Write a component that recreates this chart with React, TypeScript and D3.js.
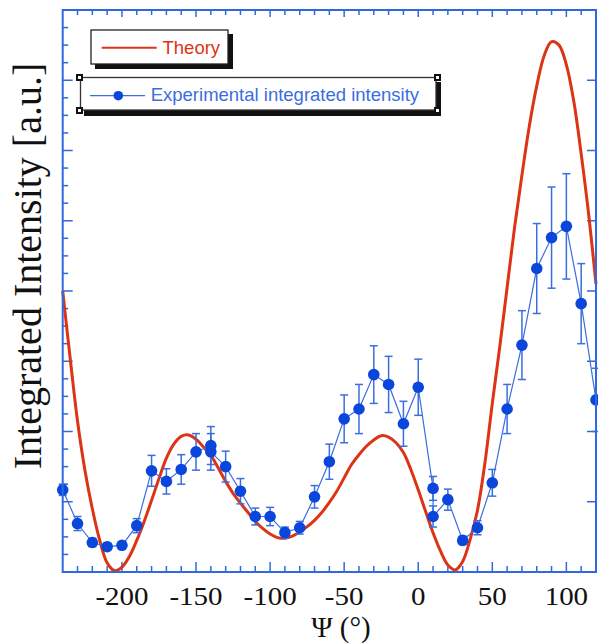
import React from "react";
import * as d3 from "d3";

// Theory curve, every 5 degrees
const theoryPsi = d3.range(-240, 121, 5);
const theoryVal = [
  4.0, 3.05, 2.15, 1.45, 0.9, 0.45, 0.13, 0.02, 0.07, 0.22, 0.45, 0.72, 1.02,
  1.33, 1.62, 1.82, 1.93, 1.95, 1.89, 1.78, 1.66, 1.48, 1.29, 1.12, 0.98, 0.85,
  0.72, 0.62, 0.54, 0.49, 0.48, 0.51, 0.57, 0.645, 0.735, 0.85, 0.99, 1.15, 1.34,
  1.53, 1.67, 1.79, 1.88, 1.94, 1.92, 1.84, 1.7, 1.46, 1.17, 0.86, 0.56, 0.3,
  0.1, 0.03, 0.15, 0.46, 0.88, 1.55, 2.4, 3.2, 4.05, 4.9, 5.65, 6.35, 6.92,
  7.35, 7.55, 7.5, 7.22, 6.7, 5.95, 5.1, 4.1,
];

// Experimental points (two measurements at -140 and at 10)
const expPsi = [
  -240, -230, -220, -210, -200, -190, -180, -170, -160, -150, -140, -140, -130,
  -120, -110, -100, -90, -80, -70, -60, -50, -40, -30, -20, -10, 0, 10, 10, 20,
  30, 40, 50, 60, 70, 80, 90, 100, 110, 120,
];
const expVal = [
  1.17, 0.69, 0.42, 0.36, 0.38, 0.66, 1.44, 1.29, 1.46, 1.71, 1.8, 1.71, 1.5,
  1.15, 0.79, 0.79, 0.56, 0.63, 1.07, 1.57, 2.18, 2.32, 2.81, 2.67, 2.11, 2.63,
  1.19, 0.79, 1.03, 0.45, 0.63, 1.27, 2.32, 3.23, 4.32, 4.76, 4.92, 3.82, 2.45,
];
const expErr = [
  0.08, 0.1, 0.06, 0.05, 0.05, 0.1, 0.22, 0.18, 0.21, 0.26, 0.27, 0.26, 0.22,
  0.18, 0.12, 0.13, 0.08, 0.09, 0.16, 0.25, 0.34, 0.35, 0.41, 0.4, 0.32, 0.4,
  0.17, 0.15, 0.15, 0.06, 0.1, 0.19, 0.35, 0.49, 0.64, 0.72, 0.75, 0.57, 0.45,
];

const xTickLabels = [-200, -150, -100, -50, 0, 50, 100];

const W = 598;
const H = 644;
const left = 62.7;
const right = 596;
const top = 10;
const bottom = 572;

const AXIS = "#3068e0";
const RED = "#dc3414";
const BLUE = "#0a46dc";
const BLUE_LINE = "#3a6ee0";
const SERIF = "'Liberation Serif', 'Times New Roman', serif";
const SANS = "'Liberation Sans', Arial, Helvetica, sans-serif";

export default function App() {
  const x = d3.scaleLinear().domain([-240, 120]).range([left, right]);
  const y = d3.scaleLinear().domain([0, 8]).range([bottom, top]);

  const theory = theoryPsi.map((p, i) => [p, theoryVal[i]] as [number, number]);
  const exp = expPsi.map((p, i) => ({ p, v: expVal[i], e: expErr[i] }));

  const theoryPath = d3
    .line<[number, number]>()
    .x((d) => x(d[0]))
    .y((d) => y(d[1]))
    .curve(d3.curveCatmullRom)(theory);

  const expPath = d3
    .line<{ p: number; v: number }>()
    .x((d) => x(d.p))
    .y((d) => y(d.v))(exp);

  const xMinor = d3.range(-230, 120, 10);
  const yMinor = d3.range(0.25, 8, 0.25);
  const yMajor = d3.range(1, 8, 1);

  return (
    <svg
      width={W}
      height={H}
      style={{ position: "absolute", left: 0, top: 0, background: "#fff" }}
    >
      {/* ticks */}
      <g stroke={AXIS} strokeWidth={1.5}>
        {xMinor.map((t) => {
          const major = t % 50 === 0;
          return (
            <g key={"xt" + t}>
              <line x1={x(t)} x2={x(t)} y1={bottom} y2={bottom - (major ? 10 : 6)} />
              <line x1={x(t)} x2={x(t)} y1={top} y2={top + (major ? 7 : 5)} />
            </g>
          );
        })}
        {yMinor.map((t) => {
          const major = Number.isInteger(t);
          return (
            <line key={"yt" + t} x1={left} x2={left + (major ? 10 : 5.5)} y1={y(t)} y2={y(t)} />
          );
        })}
        {yMajor.map((t) => (
          <line key={"yr" + t} x1={right} x2={right - 9} y1={y(t)} y2={y(t)} />
        ))}
      </g>

      {/* theory curve */}
      <path d={theoryPath || ""} fill="none" stroke={RED} strokeWidth={3} />

      {/* experimental data */}
      <path d={expPath || ""} fill="none" stroke={BLUE_LINE} strokeWidth={1.2} />
      <g stroke={BLUE_LINE} strokeWidth={1.5}>
        {exp.map((d, i) => (
          <g key={"eb" + i}>
            <line x1={x(d.p)} x2={x(d.p)} y1={y(d.v - d.e)} y2={y(d.v + d.e)} />
            <line x1={x(d.p) - 4} x2={x(d.p) + 4} y1={y(d.v - d.e)} y2={y(d.v - d.e)} />
            <line x1={x(d.p) - 4} x2={x(d.p) + 4} y1={y(d.v + d.e)} y2={y(d.v + d.e)} />
          </g>
        ))}
      </g>
      <g fill={BLUE}>
        {exp.map((d, i) => (
          <circle key={"pt" + i} cx={x(d.p)} cy={y(d.v)} r={5.8} />
        ))}
      </g>

      {/* frame */}
      <rect
        x={left}
        y={top}
        width={right - left}
        height={bottom - top}
        fill="none"
        stroke={AXIS}
        strokeWidth={2}
      />

      {/* x tick labels */}
      <g fontFamily={SERIF} fontSize={25} textAnchor="middle" fill="#111">
        {xTickLabels.map((t) => (
          <text key={"xl" + t} transform={`translate(${x(t)},605) scale(1.16,1)`}>
            {t}
          </text>
        ))}
      </g>

      {/* axis titles */}
      <text x={341} y={637} fontFamily={SERIF} fontSize={29} textAnchor="middle" fill="#111">
        Ψ (°)
      </text>
      <text
        transform={`translate(41,${266}) rotate(-90)`}
        fontFamily={SERIF}
        fontSize={40}
        textAnchor="middle"
        fill="#111"
      >
        Integrated Intensity [a.u.]
      </text>

      {/* legend: theory */}
      <rect x={95} y={34} width={138} height={35} fill="#111" />
      <rect x={91} y={30} width={137} height={34} fill="#fff" stroke="#222" strokeWidth={1.3} />
      <line x1={101.7} x2={156.7} y1={47.7} y2={47.7} stroke={RED} strokeWidth={2} />
      <text x={162.5} y={53.5} fontFamily={SANS} fontSize={18.5} fill={RED}>
        Theory
      </text>

      {/* legend: experiment */}
      <rect x={84} y={82} width={357} height={34} fill="#111" />
      <rect x={80.5} y={77.5} width={355.5} height={32.5} fill="#fff" stroke="#333" strokeWidth={1.3} />
      {[
        [76, 74],
        [76, 107],
        [434, 74],
        [434, 107],
      ].map(([hx, hy], i) => (
        <g key={"h" + i}>
          <rect x={hx} y={hy} width={7} height={7} fill="#111" />
          <rect x={hx + 2} y={hy + 2} width={3} height={3} fill="#fff" />
        </g>
      ))}
      <line x1={90} x2={145} y1={95.7} y2={95.7} stroke={BLUE_LINE} strokeWidth={1.3} />
      <circle cx={118.3} cy={95.7} r={4.8} fill={BLUE} />
      <text x={150.7} y={101} fontFamily={SANS} fontSize={18.5} fill={BLUE_LINE}>
        Experimental integrated intensity
      </text>
    </svg>
  );
}
